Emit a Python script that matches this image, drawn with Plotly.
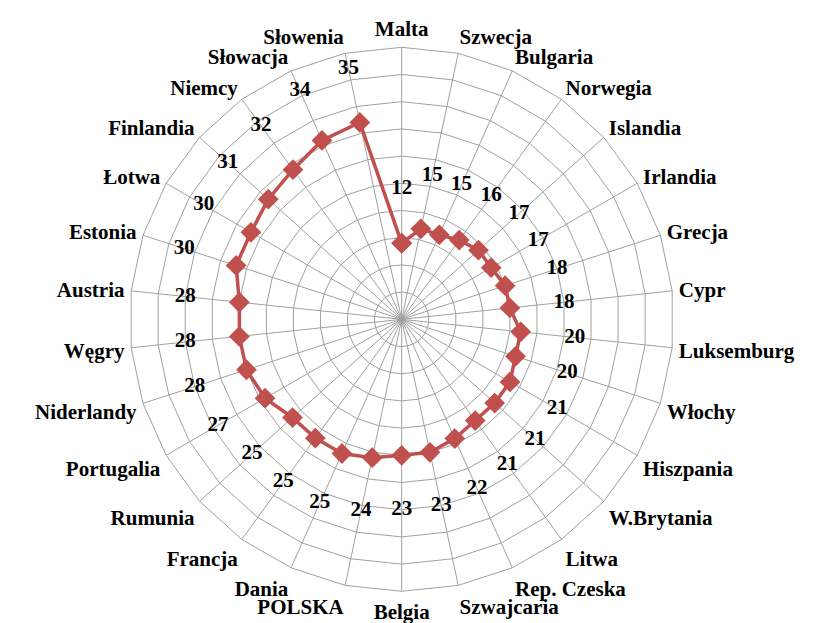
import plotly.graph_objects as go

countries = ["Malta", "Szwecja", "Bulgaria", "Norwegia", "Islandia", "Irlandia", "Grecja",
             "Cypr", "Luksemburg", "Włochy", "Hiszpania", "W.Brytania", "Litwa",
             "Rep. Czeska", "Szwajcaria", "Belgia", "POLSKA", "Dania", "Francja",
             "Rumunia", "Portugalia", "Niderlandy", "Węgry", "Austria", "Estonia",
             "Łotwa", "Finlandia", "Niemcy", "Słowacja", "Słowenia"]
values = [12, 15, 15, 16, 17, 17, 18, 18, 20, 20, 21, 21, 21, 22, 23, 23, 24, 25, 25,
          25, 27, 28, 28, 28, 30, 30, 31, 32, 34, 35]
value_labels = [str(v) for v in values]
grid_rings = [3, 8, 13, 18, 23, 28, 33, 38, 43, 48]
label_offset = 10

red = "#C0504D"
font_family = "Liberation Serif, Times New Roman, serif"

fig = go.Figure()
fig.add_trace(go.Scatterpolar(
    r=values + values[:1],
    theta=countries + countries[:1],
    mode="lines+markers",
    line=dict(color=red, width=3.5),
    marker=dict(symbol="diamond", size=16, color=red),
    hoverinfo="skip",
    showlegend=False,
))
fig.add_trace(go.Scatterpolar(
    r=[v + label_offset for v in values],
    theta=countries,
    mode="text",
    text=value_labels,
    textfont=dict(family=font_family, size=21, color="black", weight="bold"),
    hoverinfo="skip",
    showlegend=False,
))

fig.update_layout(
    width=821, height=623,
    margin=dict(l=0, r=0, t=0, b=0),
    paper_bgcolor="white",
    plot_bgcolor="white",
    polar=dict(
        domain=dict(x=[0.1482, 0.8108], y=[0.0637, 0.9369]),
        gridshape="linear",
        bgcolor="white",
        radialaxis=dict(
            range=[-2, 48],
            tickvals=grid_rings,
            showticklabels=False,
            ticks="",
            showline=False,
            gridcolor="#a0a0a0",
            gridwidth=1,
        ),
        angularaxis=dict(
            type="category",
            categoryorder="array",
            categoryarray=countries,
            rotation=90,
            direction="clockwise",
            ticks="outside",
            ticklen=2,
            tickcolor="rgba(0,0,0,0)",
            showline=True,
            linecolor="#a0a0a0",
            linewidth=1,
            gridcolor="#a0a0a0",
            gridwidth=1,
            tickfont=dict(family=font_family, size=21, color="black", weight="bold"),
        ),
    ),
)

fig.write_html("out.html")
